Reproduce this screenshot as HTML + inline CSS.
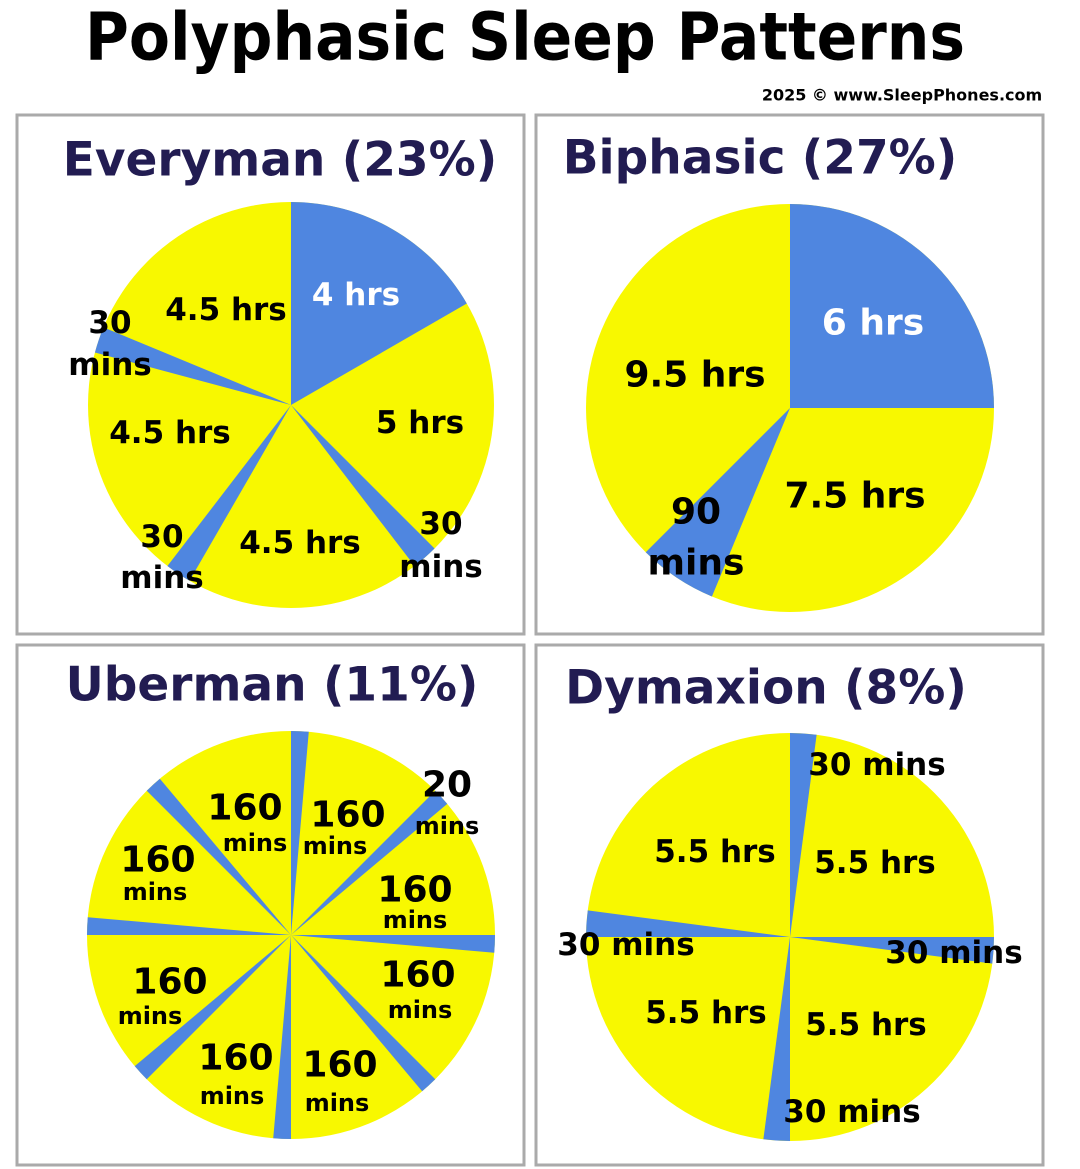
<!DOCTYPE html>
<html><head><meta charset="utf-8"><style>
html,body{margin:0;padding:0;background:#fff;}
svg{display:block;}
text{font-family:"DejaVu Sans","Liberation Sans",sans-serif;font-weight:bold;text-anchor:middle;dominant-baseline:central;}
</style></head><body>
<svg id="s" width="1080" height="1169" viewBox="0 0 1080 1169" xmlns="http://www.w3.org/2000/svg">
<rect width="1080" height="1169" fill="#fff"/>
<text x="525" y="37" font-size="66" fill="#000" textLength="880" lengthAdjust="spacingAndGlyphs">Polyphasic Sleep Patterns</text>
<text x="902" y="95" font-size="16" fill="#000">2025 © www.SleepPhones.com</text>
<rect x="17" y="115" width="507" height="519" fill="none" stroke="#aaa" stroke-width="3"/>
<rect x="536" y="115" width="507" height="519" fill="none" stroke="#aaa" stroke-width="3"/>
<rect x="17" y="645" width="507" height="520" fill="none" stroke="#aaa" stroke-width="3"/>
<rect x="536" y="645" width="507" height="520" fill="none" stroke="#aaa" stroke-width="3"/>
<g fill="#221c52" font-size="47">
<text x="280" y="160">Everyman (23%)</text>
<text x="760" y="158">Biphasic (27%)</text>
<text x="272" y="685">Uberman (11%)</text>
<text x="766" y="688">Dymaxion (8%)</text>
</g>
<g id="pies"></g>
<g id="labels" font-size="31" fill="#000">
<text x="356" y="295" fill="#fff">4 hrs</text>
<text x="226" y="310">4.5 hrs</text>
<text x="110" y="323">30</text><text x="110" y="365">mins</text>
<text x="170" y="433">4.5 hrs</text>
<text x="420" y="423">5 hrs</text>
<text x="162" y="537">30</text><text x="162" y="578">mins</text>
<text x="300" y="543">4.5 hrs</text>
<text x="441" y="524">30</text><text x="441" y="567">mins</text>

<text x="873" y="323" fill="#fff" font-size="36">6 hrs</text>
<text x="695" y="375" font-size="36">9.5 hrs</text>
<text x="855" y="496" font-size="36">7.5 hrs</text>
<text x="696" y="512" font-size="36">90</text><text x="696" y="563" font-size="36">mins</text>

<g font-size="36"><text x="245" y="808">160</text><text x="348" y="815">160</text><text x="158" y="860">160</text><text x="415" y="890">160</text><text x="170" y="982">160</text><text x="418" y="975">160</text><text x="236" y="1058">160</text><text x="340" y="1065">160</text><text x="447" y="785">20</text></g>
<g font-size="24"><text x="255" y="843">mins</text><text x="335" y="846">mins</text><text x="155" y="892">mins</text><text x="415" y="920">mins</text><text x="150" y="1016">mins</text><text x="420" y="1010">mins</text><text x="232" y="1096">mins</text><text x="337" y="1103">mins</text><text x="447" y="826">mins</text></g>

<text x="877" y="765">30 mins</text>
<text x="715" y="852">5.5 hrs</text>
<text x="875" y="863">5.5 hrs</text>
<text x="626" y="945">30 mins</text>
<text x="954" y="953">30 mins</text>
<text x="706" y="1013">5.5 hrs</text>
<text x="866" y="1025">5.5 hrs</text>
<text x="852" y="1112">30 mins</text>
</g>
</svg>
<script>
var Y="#f8f800",B="#4f86e0";
function pie(cx,cy,r,segs){
  var g=document.getElementById('pies'),a=0,h='';
  h+='<circle cx="'+cx+'" cy="'+cy+'" r="'+r+'" fill="'+Y+'"/>';
  segs.forEach(function(s){
    var a0=a,a1=a+s[0];a=a1;
    if(s[1]!==B)return;
    var p=function(t){t=t*Math.PI/180;return (cx+r*Math.sin(t)).toFixed(2)+' '+(cy-r*Math.cos(t)).toFixed(2);};
    h+='<path d="M'+cx+' '+cy+' L'+p(a0)+' A'+r+' '+r+' 0 '+(s[0]>180?1:0)+' 1 '+p(a1)+' Z" fill="'+B+'"/>';
  });
  g.innerHTML+=h;
}
pie(291,405,203,[[60,B],[75,Y],[7.5,B],[67.5,Y],[7.5,B],[67.5,Y],[7.5,B],[67.5,Y]]);
pie(790,408,204,[[90,B],[112.5,Y],[22.5,B],[135,Y]]);
var u=[];for(var i=0;i<8;i++){u.push([5,B]);u.push([40,Y]);}
pie(291,935,204,u);
var d=[];for(var i=0;i<4;i++){d.push([7.5,B]);d.push([82.5,Y]);}
pie(790,937,204,d);
</script>
</body></html>
